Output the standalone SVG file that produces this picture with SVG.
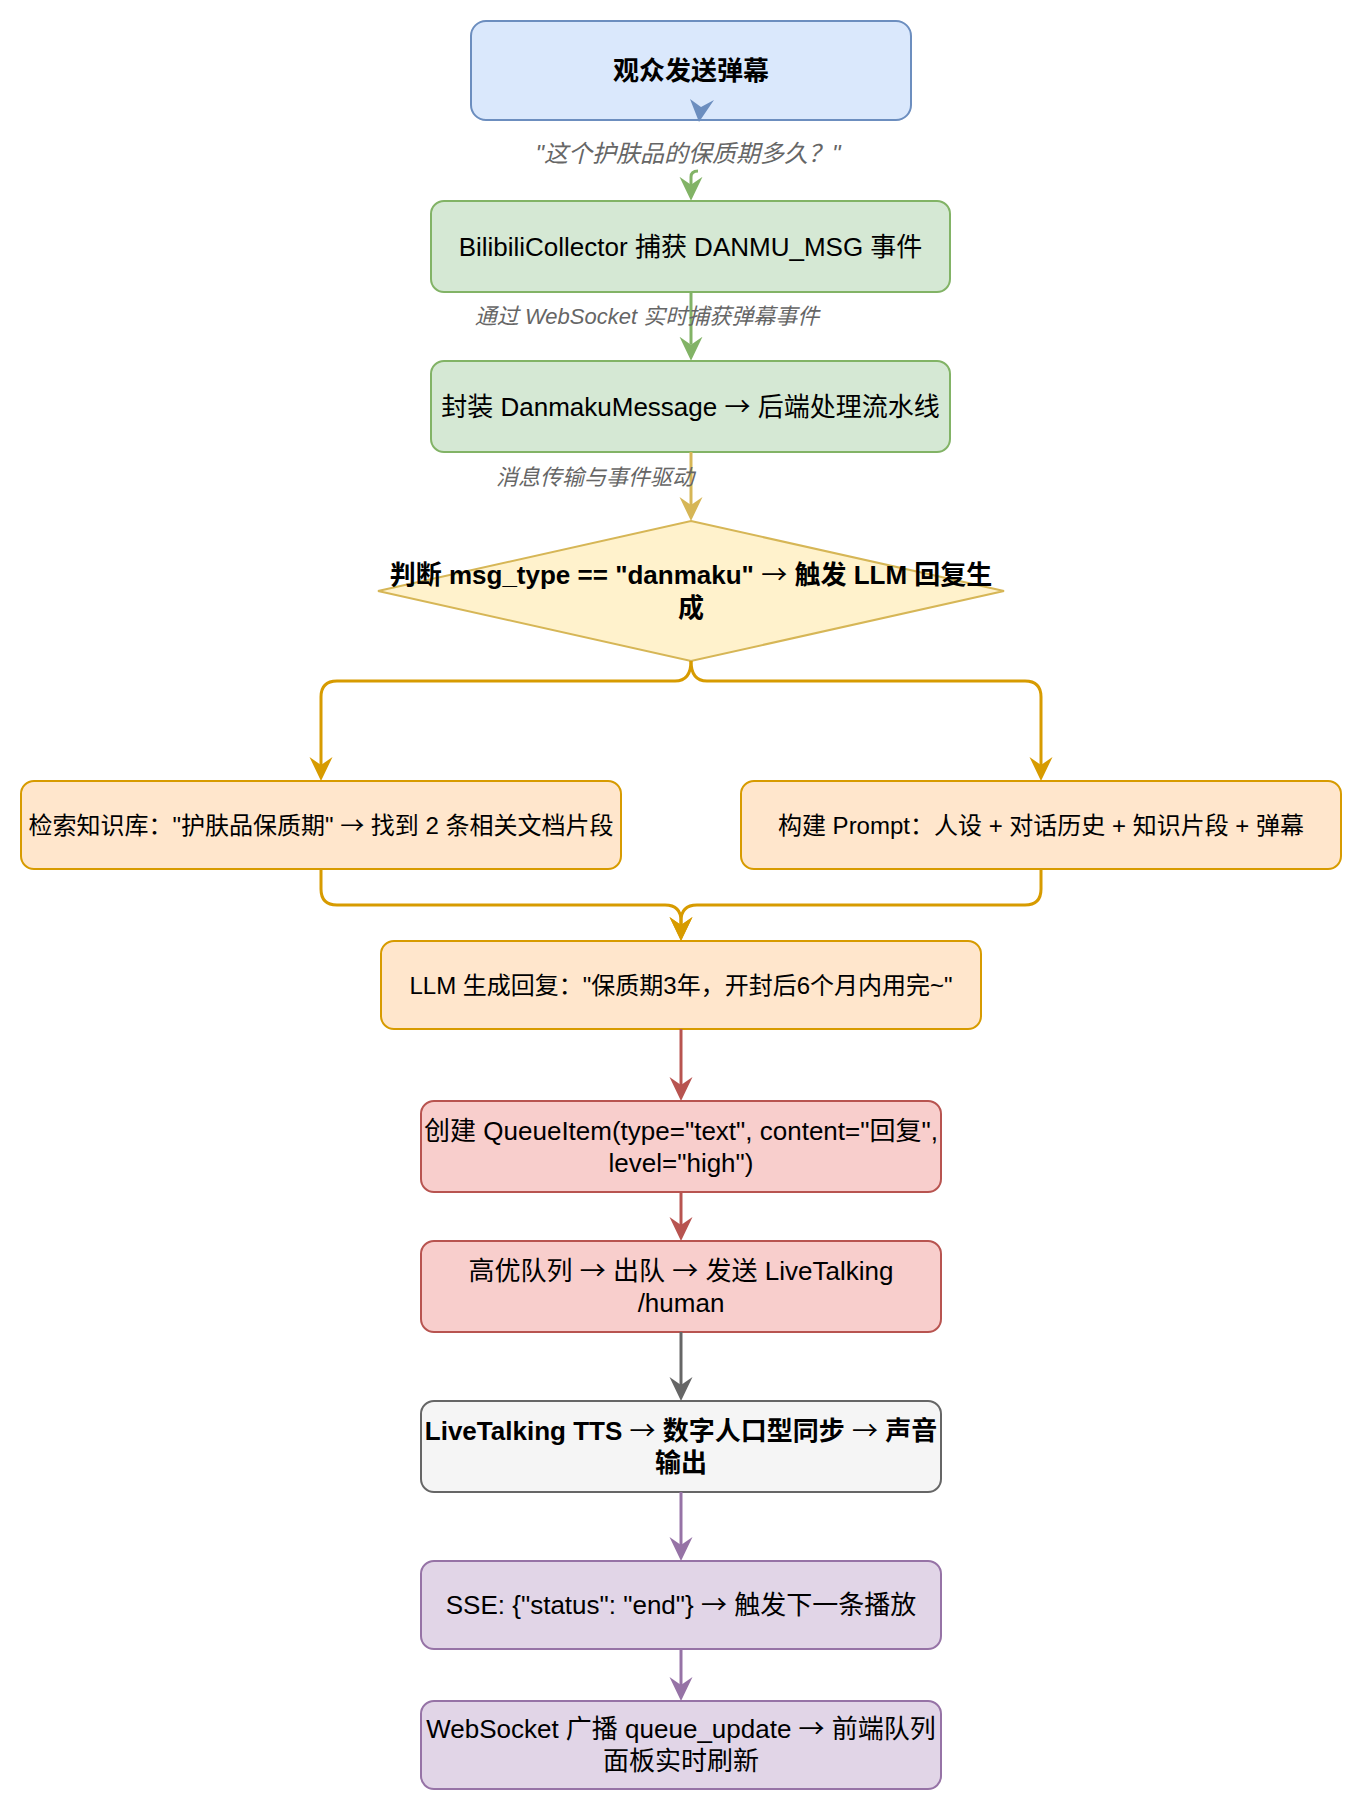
<svg xmlns="http://www.w3.org/2000/svg" width="1364" height="1812" viewBox="0 0 1364 1812">
<style>
  text { font-family: "Liberation Sans", "Noto Sans CJK SC", sans-serif; fill: #000000; text-anchor: middle; }
  .n { font-size: 26px; }
  .s { font-size: 24px; }
  .b { font-size: 26px; font-weight: bold; }
  .ar { font-family: "Noto Sans CJK SC", sans-serif; font-weight: normal; }
  .lbl { font-size: 22px; font-style: italic; fill: #666666; }
  .lbl2 { font-size: 24px; }
  .box { stroke-width: 2; }
  .blue { fill: #dae8fc; stroke: #6c8ebf; }
  .green { fill: #d5e8d4; stroke: #82b366; }
  .yellow { fill: #fff2cc; stroke: #d6b656; }
  .orange { fill: #ffe6cc; stroke: #d79b00; }
  .red { fill: #f8cecc; stroke: #b85450; }
  .gray { fill: #f5f5f5; stroke: #666666; }
  .purple { fill: #e1d5e7; stroke: #9673a6; }
  .e { fill: none; stroke-width: 3; }
</style>
<defs>
  <marker id="aGreen" viewBox="0 -12 24 24" markerWidth="24" markerHeight="24" markerUnits="userSpaceOnUse" refX="8" refY="0" orient="auto"><path d="M0,-11.5 L24,0 L0,11.5 L8,0 Z" fill="#82b366"/></marker>
  <marker id="aYellow" viewBox="0 -12 24 24" markerWidth="24" markerHeight="24" markerUnits="userSpaceOnUse" refX="8" refY="0" orient="auto"><path d="M0,-11.5 L24,0 L0,11.5 L8,0 Z" fill="#d6b656"/></marker>
  <marker id="aOrange" viewBox="0 -12 24 24" markerWidth="24" markerHeight="24" markerUnits="userSpaceOnUse" refX="8" refY="0" orient="auto"><path d="M0,-11.5 L24,0 L0,11.5 L8,0 Z" fill="#d79b00"/></marker>
  <marker id="aRed" viewBox="0 -12 24 24" markerWidth="24" markerHeight="24" markerUnits="userSpaceOnUse" refX="8" refY="0" orient="auto"><path d="M0,-11.5 L24,0 L0,11.5 L8,0 Z" fill="#b85450"/></marker>
  <marker id="aGray" viewBox="0 -12 24 24" markerWidth="24" markerHeight="24" markerUnits="userSpaceOnUse" refX="8" refY="0" orient="auto"><path d="M0,-11.5 L24,0 L0,11.5 L8,0 Z" fill="#666666"/></marker>
  <marker id="aPurple" viewBox="0 -12 24 24" markerWidth="24" markerHeight="24" markerUnits="userSpaceOnUse" refX="8" refY="0" orient="auto"><path d="M0,-11.5 L24,0 L0,11.5 L8,0 Z" fill="#9673a6"/></marker>
</defs>
<rect width="1364" height="1812" fill="#ffffff"/>

<g id="n1">
  <rect class="box blue" x="471" y="21" width="440" height="99" rx="15"/>
  <text class="b" x="691" y="80">观众发送弹幕</text>
</g>
<g id="n2">
  <rect class="box green" x="431" y="201" width="519" height="91" rx="13"/>
  <text class="n" x="690.5" y="255.5">BilibiliCollector 捕获 DANMU_MSG 事件</text>
</g>
<g id="n3">
  <rect class="box green" x="431" y="361" width="519" height="91" rx="13"/>
  <text class="n" x="690.5" y="415.5">封装 DanmakuMessage <tspan class="ar">→</tspan> 后端处理流水线</text>
</g>
<g id="n4">
  <polygon class="box yellow" points="691,521 1004,591 691,661 378,591"/>
  <text class="b" x="691" y="584">判断 msg_type == "danmaku" <tspan class="ar">→</tspan> 触发 LLM 回复生</text>
  <text class="b" x="691" y="617">成</text>
</g>
<g id="n5">
  <rect class="box orange" x="21" y="781" width="600" height="88" rx="13"/>
  <text class="s" x="321" y="833.5">检索知识库："护肤品保质期" <tspan class="ar">→</tspan> 找到 2 条相关文档片段</text>
</g>
<g id="n6">
  <rect class="box orange" x="741" y="781" width="600" height="88" rx="13"/>
  <text class="s" x="1041" y="833.5">构建 Prompt：人设 + 对话历史 + 知识片段 + 弹幕</text>
</g>
<g id="n7">
  <rect class="box orange" x="381" y="941" width="600" height="88" rx="13"/>
  <text class="s" x="681" y="993.5">LLM 生成回复："保质期3年，开封后6个月内用完~"</text>
</g>
<g id="n8">
  <rect class="box red" x="421" y="1101" width="520" height="91" rx="13"/>
  <text class="n" x="681" y="1140">创建 QueueItem(type="text", content="回复",</text>
  <text class="n" x="681" y="1172">level="high")</text>
</g>
<g id="n9">
  <rect class="box red" x="421" y="1241" width="520" height="91" rx="13"/>
  <text class="n" x="681" y="1280">高优队列 <tspan class="ar">→</tspan> 出队 <tspan class="ar">→</tspan> 发送 LiveTalking</text>
  <text class="n" x="681" y="1312">/human</text>
</g>
<g id="n10">
  <rect class="box gray" x="421" y="1401" width="520" height="91" rx="13"/>
  <text class="b" x="681" y="1440">LiveTalking TTS <tspan class="ar">→</tspan> 数字人口型同步 <tspan class="ar">→</tspan> 声音</text>
  <text class="b" x="681" y="1472">输出</text>
</g>
<g id="n11">
  <rect class="box purple" x="421" y="1561" width="520" height="88" rx="13"/>
  <text class="n" x="681" y="1614">SSE: {"status": "end"} <tspan class="ar">→</tspan> 触发下一条播放</text>
</g>
<g id="n12">
  <rect class="box purple" x="421" y="1701" width="520" height="88" rx="13"/>
  <text class="n" x="681" y="1738">WebSocket 广播 queue_update <tspan class="ar">→</tspan> 前端队列</text>
  <text class="n" x="681" y="1770">面板实时刷新</text>
</g>

<g id="edges">
  <polygon points="690,99 699,122 714,100 701,107" fill="#6c8ebf"/>
  <path class="e" d="M691,185 L691,177 Q691,171 698,171" stroke="#82b366"/>
  <path class="e" d="M691,184.7 L691,184.8" stroke="#82b366" marker-end="url(#aGreen)"/>
  <path class="e" d="M691,292 L691,344.7" stroke="#82b366" marker-end="url(#aGreen)"/>
  <path class="e" d="M691,452 L691,505" stroke="#d6b656" marker-end="url(#aYellow)"/>
  <path class="e" d="M691,661 Q691,681 675,681 L337,681 Q321,681 321,697 L321,765" stroke="#d79b00" marker-end="url(#aOrange)"/>
  <path class="e" d="M691,661 Q691,681 707,681 L1025,681 Q1041,681 1041,697 L1041,765" stroke="#d79b00" marker-end="url(#aOrange)"/>
  <path class="e" d="M321,869 L321,889 Q321,905 337,905 L665,905 Q681,905 681,921 L681,925" stroke="#d79b00" marker-end="url(#aOrange)"/>
  <path class="e" d="M1041,869 L1041,889 Q1041,905 1025,905 L697,905 Q681,905 681,921 L681,925" stroke="#d79b00" marker-end="url(#aOrange)"/>
  <path class="e" d="M681,1029 L681,1085" stroke="#b85450" marker-end="url(#aRed)"/>
  <path class="e" d="M681,1192 L681,1225" stroke="#b85450" marker-end="url(#aRed)"/>
  <path class="e" d="M681,1332 L681,1385" stroke="#666666" marker-end="url(#aGray)"/>
  <path class="e" d="M681,1492 L681,1545" stroke="#9673a6" marker-end="url(#aPurple)"/>
  <path class="e" d="M681,1649 L681,1685" stroke="#9673a6" marker-end="url(#aPurple)"/>
  <text class="lbl lbl2" x="688" y="161.5">"这个护肤品的保质期多久？"</text>
  <text class="lbl" x="647" y="324">通过 WebSocket 实时捕获弹幕事件</text>
  <text class="lbl" x="595" y="484.5">消息传输与事件驱动</text>
</g>
</svg>
